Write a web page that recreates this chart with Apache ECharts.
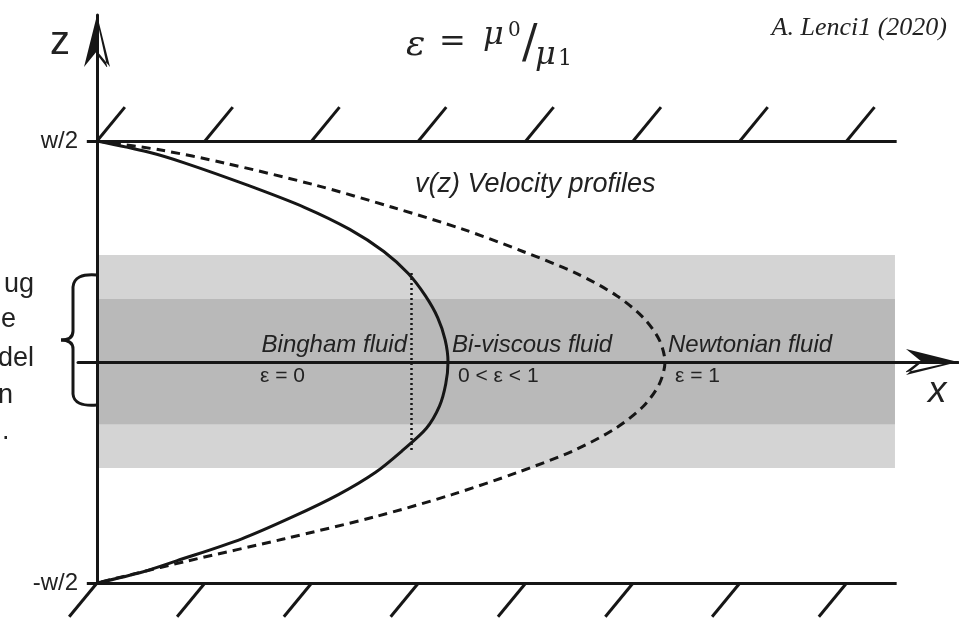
<!DOCTYPE html>
<html>
<head>
<meta charset="utf-8">
<title>v(z) Velocity profiles</title>
<script src="https://cdn.jsdelivr.net/npm/echarts@6/dist/echarts.min.js"></script>
<style>
  html, body { margin: 0; padding: 0; background: #fff; }
  #chart { width: 959px; height: 618px; }
</style>
</head>
<body>
<div id="chart"></div>
<script>
// velocity v (x axis, 1 = Newtonian max) against height z (units of w/2)
const newtonianZ = [1, 0.96, 0.9, 0.8, 0.7, 0.6, 0.5, 0.4, 0.3, 0.2, 0.1, 0, -0.1, -0.2, -0.3, -0.4, -0.5, -0.6, -0.7, -0.8, -0.9, -0.96, -1];
const newtonianV = [0, 0.11, 0.225, 0.385, 0.52, 0.645, 0.75, 0.845, 0.915, 0.962, 0.99, 1.0, 0.99, 0.962, 0.913, 0.84, 0.74, 0.625, 0.49, 0.33, 0.16, 0.063, 0];

const biViscousZ = [1, 0.95, 0.9, 0.8, 0.7, 0.6, 0.5, 0.4, 0.3, 0.2, 0.1, 0, -0.1, -0.2, -0.3, -0.4, -0.5, -0.6, -0.7, -0.8, -0.9, -0.95, -1];
const biViscousV = [0, 0.09, 0.155, 0.265, 0.365, 0.445, 0.505, 0.548, 0.578, 0.6, 0.613, 0.618, 0.614, 0.603, 0.58, 0.538, 0.49, 0.425, 0.345, 0.255, 0.14, 0.08, 0];

// Bingham plug: flat profile between the yield heights
const binghamPlugV = 0.554;
const binghamPlugZ = [0.403, -0.398];

// walls and their hatching
const wallZ = [1, -1];
const wallX = [-0.018, 1.408];
const hatchX = [0, 0.19, 0.378, 0.566, 0.755, 0.944, 1.132, 1.32];

// shaded bands
const bandX = [0, 1.405];
const outerBand = [0.484, -0.48];
const innerBand = [0.285, -0.282];

const zTicks = [1, -1];
const zTickLabels = ['w/2', '-w/2'];

const HATCH_DX = 0.049;
const HATCH_DZ = 0.153;
const INK = '#161616';
const ARROW = 'path://M13 0L0 52L13 36ZM13 0L26 52L23.2 52L12.6 4ZM26 52L13 36L13 39.6L22.6 52Z';

const zip = (xs, ys) => xs.map((x, i) => [x, ys[i]]);

const wallLines = wallZ.map(z => ({ coords: [[wallX[0], z], [wallX[1], z]] }));
const hatchLines = hatchX.map(x => ({ coords: [[x, 1], [x + HATCH_DX, 1 + HATCH_DZ]] }))
  .concat(hatchX.map(x => ({ coords: [[x, -1], [x - HATCH_DX, -1 - HATCH_DZ]] })));

const txt = (text, x, y, font, align) => ({
  type: 'text', x, y, z: 20, silent: true,
  style: { text, font, fill: '#222', align: align || 'left', verticalAlign: 'middle' }
});

// curly brace beside the plug zone
const braceStyle = { stroke: INK, lineWidth: 3, fill: null };
const curve = (x1, y1, cx, cy, x2, y2) => ({
  type: 'bezierCurve', z: 20, silent: true,
  shape: { x1, y1, cpx1: cx, cpy1: cy, x2, y2 }, style: braceStyle
});
const seg = (x1, y1, x2, y2) => ({
  type: 'line', z: 20, silent: true, shape: { x1, y1, x2, y2 }, style: braceStyle
});

const chart = echarts.init(document.getElementById('chart'));

chart.setOption({
  animation: false,
  backgroundColor: '#fff',
  grid: { left: 78, right: 1, top: 15, bottom: 35, containLabel: false },
  xAxis: {
    type: 'value',
    min: -0.0335,
    max: 1.516,
    z: 5,
    axisLine: {
      onZero: true,
      lineStyle: { color: INK, width: 3 },
      symbol: ['none', ARROW],
      symbolSize: [26, 52],
      symbolOffset: [0, -26]
    },
    axisTick: { show: false },
    axisLabel: { show: false },
    splitLine: { show: false }
  },
  yAxis: {
    type: 'value',
    min: -1,
    max: 1.57,
    interval: 1,
    z: 5,
    axisLine: {
      onZero: true,
      lineStyle: { color: INK, width: 3 },
      symbol: ['none', ARROW],
      symbolSize: [26, 52],
      symbolOffset: [0, -26]
    },
    axisTick: { show: false },
    splitLine: { show: false },
    axisLabel: {
      margin: 0,
      color: '#222',
      fontSize: 24,
      fontFamily: 'Liberation Sans',
      padding: [0, 0, 12, 0],
      showMaxLabel: false,
      formatter: v => {
        const i = zTicks.indexOf(v);
        return i < 0 ? '' : zTickLabels[i];
      }
    }
  },
  series: [
    {
      type: 'line',
      data: [],
      z: 1,
      silent: true,
      markArea: {
        silent: true,
        data: [
          [{ xAxis: bandX[0], yAxis: outerBand[0], itemStyle: { color: '#d4d4d4', opacity: 1 } },
           { xAxis: bandX[1], yAxis: outerBand[1] }],
          [{ xAxis: bandX[0], yAxis: innerBand[0], itemStyle: { color: '#b9b9b9', opacity: 1 } },
           { xAxis: bandX[1], yAxis: innerBand[1] }]
        ]
      }
    },
    {
      type: 'lines',
      coordinateSystem: 'cartesian2d',
      polyline: false,
      clip: false,
      silent: true,
      z: 6,
      lineStyle: { color: INK, width: 3, opacity: 1, curveness: 0 },
      data: wallLines.concat(hatchLines)
    },
    {
      type: 'lines',
      coordinateSystem: 'cartesian2d',
      polyline: false,
      silent: true,
      z: 6,
      lineStyle: { color: INK, width: 2.5, opacity: 1, type: [2, 3], curveness: 0 },
      data: [{ coords: [[binghamPlugV, binghamPlugZ[0]], [binghamPlugV, binghamPlugZ[1]]] }]
    },
    {
      name: 'Newtonian fluid',
      type: 'line',
      data: zip(newtonianV, newtonianZ),
      showSymbol: false,
      symbol: 'none',
      smooth: 0.3,
      silent: true,
      z: 6,
      lineStyle: { color: INK, width: 3, type: [9, 6] }
    },
    {
      name: 'Bi-viscous fluid',
      type: 'line',
      data: zip(biViscousV, biViscousZ),
      showSymbol: false,
      symbol: 'none',
      smooth: 0.3,
      silent: true,
      z: 6,
      lineStyle: { color: INK, width: 3 }
    }
  ],
  graphic: [
    // axis names
    txt('z', 50, 43, '40px "Liberation Sans"'),
    txt('x', 928, 392, 'italic 37px "Liberation Sans"'),
    // formula
    txt('ε', 406, 46, 'italic 36px "DejaVu Serif"'),
    txt('=', 439, 43, '32px "DejaVu Serif"'),
    txt('μ', 483, 36, 'italic 32px "DejaVu Serif"'),
    txt('0', 508, 31, '20px "DejaVu Serif"'),
    txt('/', 522, 45, '46px "DejaVu Serif"'),
    txt('μ', 535, 56, 'italic 32px "DejaVu Serif"'),
    txt('1', 558, 59, '22px "DejaVu Serif"'),
    txt('A. Lenci1 (2020)', 947, 28, 'italic 26px "Liberation Serif"', 'right'),
    // profile labels
    txt('v(z) Velocity profiles', 415, 184, 'italic 27px "Liberation Sans"'),
    txt('Bingham fluid', 407, 345, 'italic 24px "Liberation Sans"', 'right'),
    txt('ε = 0', 260, 376, '21px "Liberation Sans"'),
    txt('Bi-viscous fluid', 452, 345, 'italic 24px "Liberation Sans"'),
    txt('0 < ε < 1', 458, 376, '21px "Liberation Sans"'),
    txt('Newtonian fluid', 668, 345, 'italic 24px "Liberation Sans"'),
    txt('ε = 1', 675, 376, '21px "Liberation Sans"'),
    // cropped side note
    txt('ug', 34, 285, '27px "Liberation Sans"', 'right'),
    txt('e', 16, 320, '27px "Liberation Sans"', 'right'),
    txt('del', 34, 359, '27px "Liberation Sans"', 'right'),
    txt('n', 13, 396, '27px "Liberation Sans"', 'right'),
    txt('.', 2, 432, '27px "Liberation Sans"'),
    curve(97, 275, 74, 273, 73, 287),
    seg(73, 287, 73, 331),
    curve(73, 331, 73, 340, 61, 340),
    curve(61, 340, 73, 340, 73, 349),
    seg(73, 349, 73, 394),
    curve(73, 394, 74, 407, 97, 405)
  ]
});
</script>
</body>
</html>
